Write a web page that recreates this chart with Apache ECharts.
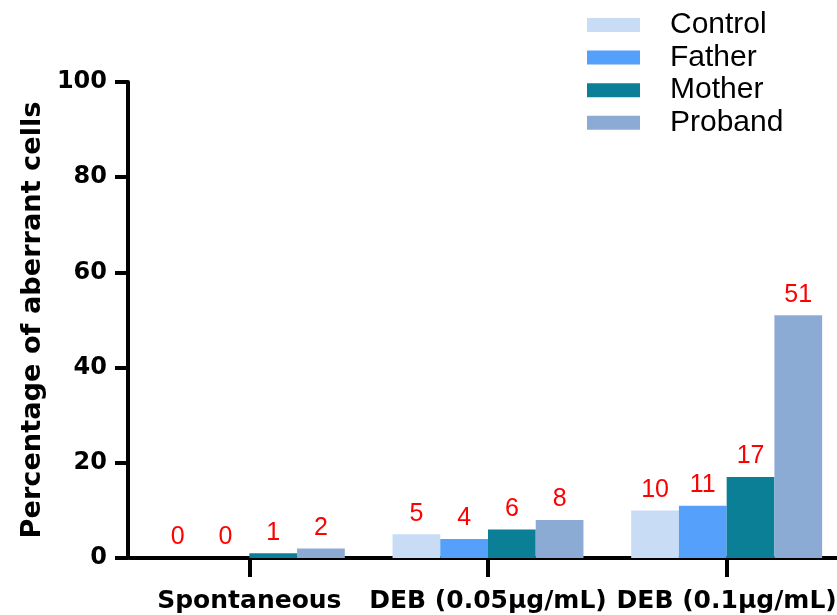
<!DOCTYPE html>
<html><head><meta charset="utf-8">
<script src="https://cdn.jsdelivr.net/npm/echarts@6/dist/echarts.min.js"></script>
<style>html,body{margin:0;padding:0;background:#fff;overflow:hidden}#c{width:846px;height:615px}</style>
</head><body><div id="c"></div>
<script>
const categories = ['Spontaneous', 'DEB (0.05μg/mL)', 'DEB (0.1μg/mL)'];
const seriesNames = ['Control', 'Father', 'Mother', 'Proband'];
const control = [0, 5, 10];
const father = [0, 4, 11];
const mother = [1, 6, 17];
const proband = [2, 8, 51];
const yTicks = [0, 20, 40, 60, 80, 100];
const colors = ['#c8dcf6', '#55a0fa', '#0a7f95', '#8cabd4'];
const values = [control, father, mother, proband];

const chart = echarts.init(document.getElementById('c'), null, {renderer: 'canvas'});
const font = 'Liberation Sans, Arial, sans-serif';
const boldFont = 'DejaVu Sans, sans-serif';
chart.setOption({
  animation: false,
  textStyle: {fontFamily: font},
  legend: {
    orient: 'vertical', left: 582, top: 5,
    itemWidth: 53, itemHeight: 14, itemGap: 2.6,
    icon: 'rect',
    textStyle: {fontSize: 30, color: '#000', fontFamily: font, padding: [0, 0, 0, 25]},
    data: seriesNames
  },
  grid: {left: 130, right: 0, top: 82, bottom: 57, containLabel: false},
  xAxis: {
    type: 'category', data: categories,
    axisLine: {lineStyle: {color: '#000', width: 4}},
    axisTick: {show: true, alignWithLabel: true, length: 19, lineStyle: {color: '#000', width: 4}},
    axisLabel: {fontSize: 25, fontWeight: 'bold', color: '#000', margin: 31, fontFamily: boldFont, interval: 0}
  },
  yAxis: {
    type: 'value', min: yTicks[0], max: yTicks[yTicks.length - 1], interval: 20,
    offset: 2,
    name: 'Percentage of aberrant cells', nameLocation: 'middle', nameGap: 80,
    nameTextStyle: {fontSize: 27.2, fontWeight: 'bold', color: '#000', fontFamily: boldFont},
    splitLine: {show: false},
    axisLine: {show: true, lineStyle: {color: '#000', width: 4}},
    axisTick: {show: true, length: 13, lineStyle: {color: '#000', width: 4}},
    axisLabel: {fontSize: 24, fontWeight: 'bold', color: '#000', margin: 21, fontFamily: boldFont}
  },
  series: seriesNames.map((n, i) => ({
    name: n, type: 'bar', data: values[i],
    barGap: '0%', barCategoryGap: '20%',
    itemStyle: {color: colors[i]},
    label: {show: true, position: 'top', distance: 8, color: '#ff0000', fontSize: 25, fontFamily: font}
  }))
});
</script></body></html>
